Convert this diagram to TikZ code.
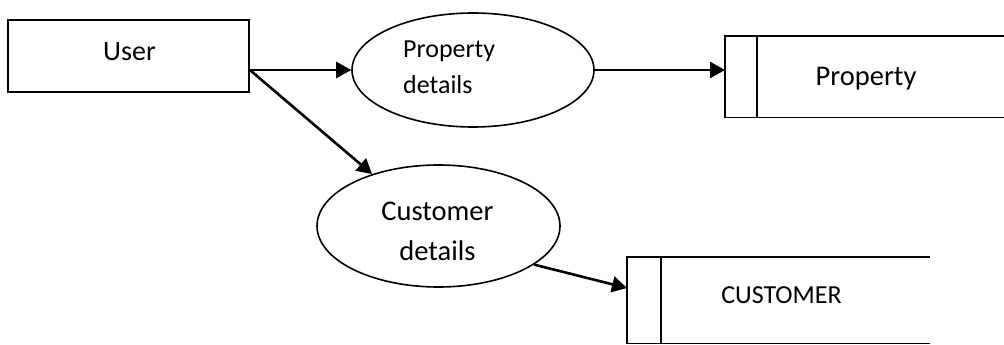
\documentclass[tikz,border=0pt]{standalone}
\usepackage{fontspec}
\setmainfont{Carlito}
\usetikzlibrary{shapes.geometric,arrows.meta,calc}
\begin{document}
\begin{tikzpicture}[x=1pt,y=-1pt,
  boxline/.style={draw,line width=1.8pt,inner sep=0pt},
  ell/.style={draw,ellipse,line width=1.6pt,inner sep=0pt},
  store/.style={inner sep=0pt,anchor=north west},
  storeline/.style={line width=1.8pt},
  arr/.style={line width=2.6pt,-{Triangle[length=15pt,width=16pt]}},
  lbl/.style={inner sep=0pt}]
\useasboundingbox (0,0) rectangle (1004,345);
% User entity
\node[boxline, minimum width=241pt, minimum height=72pt] (user) at (128.5,56) {};
\node[lbl,font=\fontsize{28}{34}\selectfont] (usertext) at (129.5,51.5) {User};
% Property details process
\node[ell, minimum width=242pt, minimum height=114pt] (pd) at (473,70) {};
\node[lbl, align=left, anchor=west, font=\fontsize{26}{36}\selectfont] (pdtext) at (403,67.3) {Property\\details};
% Customer details process
\node[ell, minimum width=243pt, minimum height=122pt] (cd) at (438.5,226) {};
\node[lbl, align=center, font=\fontsize{28.5}{40}\selectfont] (cdtext) at (437.5,231.5) {Customer\\details};
% Property store
\node[store, minimum width=279pt, minimum height=81pt] (ps) at (725,36) {};
\draw[storeline] (ps.north east) -- (ps.north west) -- (ps.south west) -- (ps.south east);
\draw[storeline] ($(ps.north west)+(32,0)$) -- ($(ps.south west)+(32,0)$);
\node[lbl, anchor=base, font=\fontsize{28.5}{34}\selectfont] (pstext) at (866,85) {Property};
% Customer store
\node[store, minimum width=303pt, minimum height=86pt] (cs) at (627,257) {};
\draw[storeline] (cs.north east) -- (cs.north west) -- (cs.south west) -- (cs.south east);
\draw[storeline] ($(cs.north west)+(34,0)$) -- ($(cs.south west)+(34,0)$);
\node[lbl, anchor=base, font=\fontsize{26}{32}\selectfont] (cstext) at (781.5,303.3) {CUSTOMER};
% Connectors
\coordinate (ustart) at (user.east |- pd.west);
\draw[arr] (ustart) -- (pd.west);
\draw[arr] (ustart) -- (cd.142);
\draw[arr] (pd.east) -- (pd.east -| ps.west);
\draw[arr] (cd.-22.4) -- ($(cs.north west)+(0,31)$);
\end{tikzpicture}
\end{document}
